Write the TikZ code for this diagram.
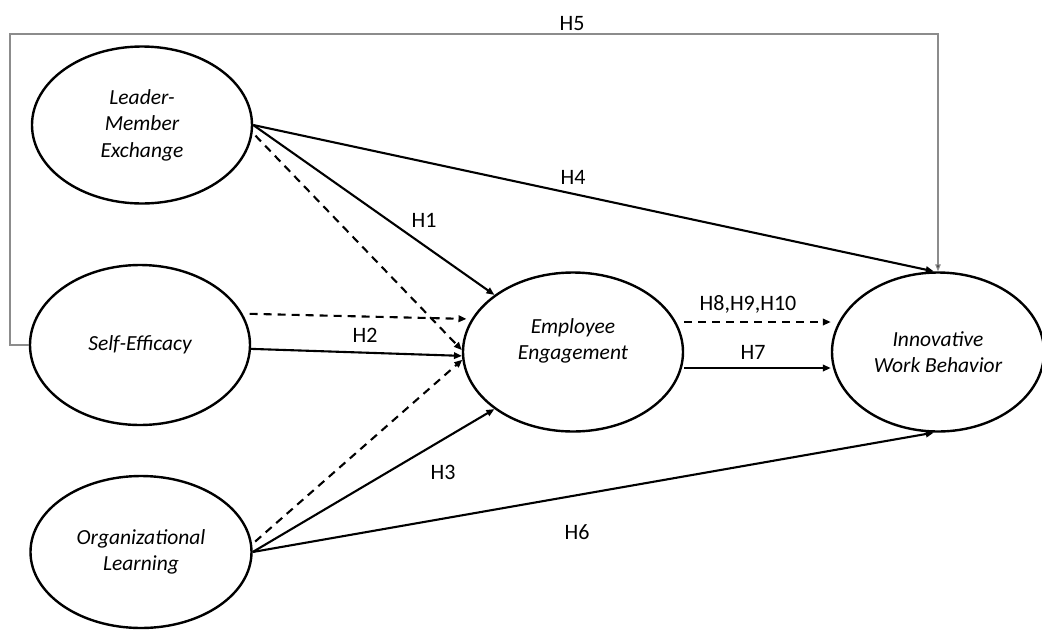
\documentclass[tikz,border=0pt]{standalone}
\usepackage{fontspec}
\setmainfont{Carlito}
\usetikzlibrary{shapes.geometric,arrows.meta}
\begin{document}
\begin{tikzpicture}[x=1pt,y=-1pt,
  ell/.style={ellipse,draw,line width=2.4pt,inner sep=0pt,align=center,font=\fontsize{21.5}{26.5}\selectfont\itshape},
  lbl/.style={inner sep=0pt,anchor=base,font=\fontsize{22}{26}\selectfont},
  con/.style={line width=2.1pt,-{Triangle[length=8pt,width=6.5pt]}},
  dcon/.style={con,dash pattern=on 8pt off 6pt},
  framel/.style={line width=1.1pt,draw=black!45,-{Triangle[length=7pt,width=5.5pt,fill=black!75]}}
]
\useasboundingbox[fill=white] (0,0) rectangle (1042,630);

\node[ell,minimum width=220pt,minimum height=157pt] (lmx) at (142,125) {Leader-\\Member\\Exchange};
\node[ell,minimum width=220pt,minimum height=160pt] (se) at (140,345) {Self-Efficacy};
\node[ell,minimum width=221pt,minimum height=152pt] (ol) at (141,552) {Organizational\\Learning};
\node[ell,minimum width=220pt,minimum height=159pt] (ee) at (573,352) {};
\node[ell,draw=none] (eet) at (573,341) {Employee\\Engagement};
\node[ell,minimum width=212pt,minimum height=159pt] (iwb) at (938,352) {Innovative\\Work Behavior};

% H5 frame
\coordinate (fc) at (10,34);
\draw[framel] (se.west) -| (fc) -| (iwb.north);

% connectors
\draw[con] (lmx.east) -- (iwb.93);
\draw[con] (lmx.east) -- (ee.144);
\draw[dcon,shorten <=4pt] (lmx.-4) -- (ee.179);
\draw[dcon,shorten <=7pt,shorten >=5pt] (se.17) -- (ee.162);
\draw[con] (se.-2) -- (ee.-178);
\draw[dcon,shorten <=4pt] (ol.4) -- (ee.-176);
\draw[con] (ol.east) -- (ee.-144);
\draw[con] (ol.east) -- (iwb.-93);
\path ([yshift=30pt]ee.east) coordinate (h8s);
\path ([yshift=-16pt]ee.east) coordinate (h7s);
\draw[dcon] (h8s) -- (h8s -| iwb.west);
\draw[con] (h7s) -- (h7s -| iwb.west);

% labels
\node[lbl] (l5) at (572,30) {H5};
\node[lbl] (l4) at (573,184) {H4};
\node[lbl] (l1) at (424,227) {H1};
\node[lbl] (l2) at (365,342) {H2};
\node[lbl] (l3) at (443,479) {H3};
\node[lbl] (l6) at (577,539) {H6};
\node[lbl] (l8) at (748,310) {H8,H9,H10};
\node[lbl] (l7) at (753,359) {H7};
\end{tikzpicture}
\end{document}
